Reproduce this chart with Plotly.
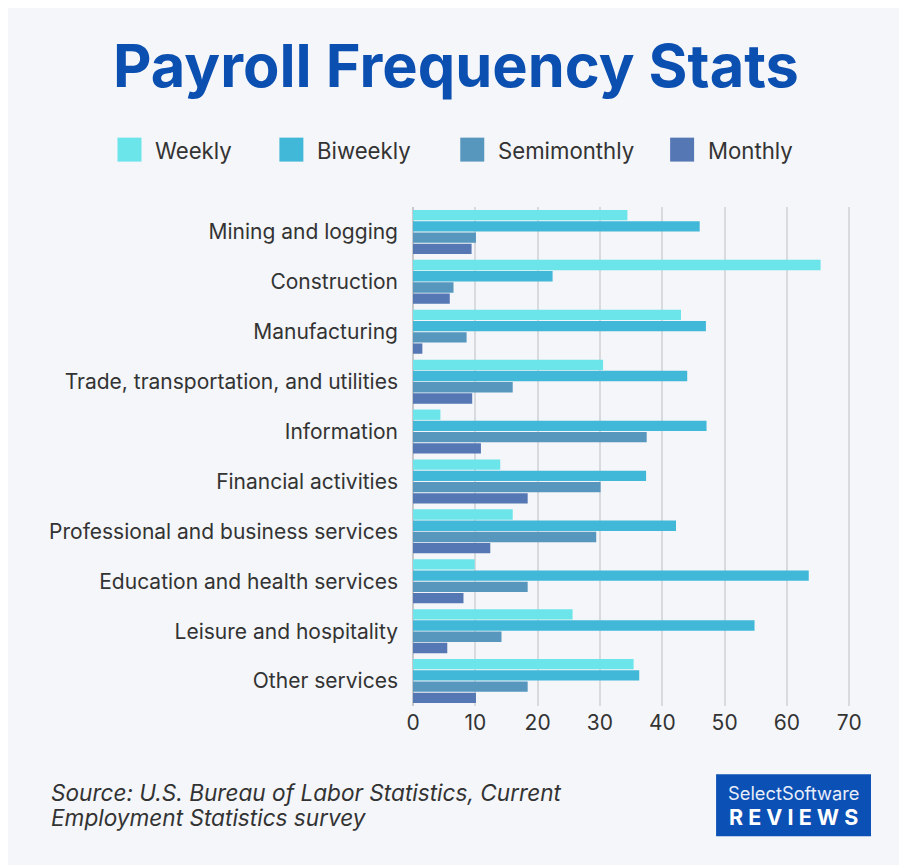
import plotly.graph_objects as go

# values (percent of establishments)
industries = [
    "Mining and logging",
    "Construction",
    "Manufacturing",
    "Trade, transportation, and utilities",
    "Information",
    "Financial activities",
    "Professional and business services",
    "Education and health services",
    "Leisure and hospitality",
    "Other services",
]
weekly = [34.4, 65.4, 43.0, 30.5, 4.4, 14.0, 16.0, 9.9, 25.6, 35.4]
biweekly = [46.0, 22.4, 47.0, 44.0, 47.1, 37.4, 42.2, 63.5, 54.8, 36.3]
semimonthly = [10.1, 6.5, 8.6, 16.0, 37.5, 30.1, 29.4, 18.4, 14.2, 18.4]
monthly = [9.4, 5.9, 1.5, 9.5, 10.9, 18.4, 12.4, 8.1, 5.5, 10.1]

series_names = ["Weekly", "Biweekly", "Semimonthly", "Monthly"]
series_values = [weekly, biweekly, semimonthly, monthly]
colors = ["#6be4ea", "#42b8d8", "#5797be", "#5577b3"]
x_ticks = [0, 10, 20, 30, 40, 50, 60, 70]

# page has an 8px body margin, so the figure is drawn 8px smaller
OFF = 8
W, H = 907 - OFF, 865 - OFF
BG = "#f4f6f9"
FONT = "Inter"
TXT = "#333333"

# plot area (figure pixels)
L, T = 404.7, 198.5
R, B = 54, 158.5
PW, PH = W - L - R, H - T - B


def px(x):
    # screen pixel x -> paper coordinate
    return (x - OFF - L) / PW


def py(y):
    # screen pixel y -> paper coordinate
    return (H - B - (y - OFF)) / PH


fig = go.Figure()
for name, vals, col in zip(series_names, series_values, colors):
    fig.add_trace(go.Bar(
        y=industries, x=vals, name=name, orientation="h",
        marker=dict(color=col, line=dict(width=0)),
        showlegend=False,
    ))

fig.update_layout(
    width=W, height=H,
    paper_bgcolor=BG, plot_bgcolor=BG,
    margin=dict(l=L, r=R, t=T, b=B),
    barmode="group", bargap=0.1, bargroupgap=0.08,
    font=dict(family=FONT, color=TXT, size=18),
)
fig.update_xaxes(
    range=[0, 70.6], tickvals=x_ticks, showgrid=True,
    gridcolor="#d9dadd", gridwidth=1.5,
    zeroline=True, zerolinecolor="#c8c9cc", zerolinewidth=2,
    tickfont=dict(size=21, color=TXT), ticks="", ticklabelstandoff=2,
)
fig.update_yaxes(
    autorange="reversed", ticks="", ticklabelstandoff=14,
    tickfont=dict(size=21, color=TXT),
)

# title
fig.add_annotation(
    text="<b>Payroll Frequency Stats</b>", x=px(456), y=py(64),
    xref="paper", yref="paper", xanchor="center", yanchor="middle",
    showarrow=False, font=dict(size=59.5, color="#0b4fb1", family=FONT),
)

# custom legend with big square swatches
legend_x = [117, 279, 460, 670]
for name, col, lx in zip(series_names, colors, legend_x):
    fig.add_shape(
        type="rect", xref="paper", yref="paper",
        x0=px(lx), x1=px(lx + 24), y0=py(161), y1=py(137),
        fillcolor=col, line=dict(width=0),
    )
    fig.add_annotation(
        text=name, xref="paper", yref="paper", showarrow=False,
        x=px(lx + 36), y=py(149.5), xanchor="left", yanchor="middle",
        font=dict(size=22.2, color=TXT, family=FONT),
    )

# source note, two lines
source_lines = ["Source: U.S. Bureau of Labor Statistics, Current",
                "Employment Statistics survey"]
for i, line in enumerate(source_lines):
    fig.add_annotation(
        text="<i>" + line + "</i>", xref="paper", yref="paper", showarrow=False,
        x=px(48), y=py(793 + 25 * i), xanchor="left", yanchor="middle",
        font=dict(size=22.6, color=TXT, family=FONT),
    )

# logo badge
fig.add_shape(
    type="rect", xref="paper", yref="paper",
    x0=px(716), x1=px(871), y0=py(837), y1=py(775),
    fillcolor="#0b50b4", line=dict(width=0),
)
fig.add_annotation(
    text="SelectSoftware", xref="paper", yref="paper", showarrow=False,
    x=px(793.5), y=py(793.5), xanchor="center", yanchor="middle",
    font=dict(size=18.3, color="#e8eefa", family=FONT),
)
fig.add_annotation(
    text="<b>R E V I E W S</b>", xref="paper", yref="paper", showarrow=False,
    x=px(793.5), y=py(817.5), xanchor="center", yanchor="middle",
    font=dict(size=21.5, color="#ffffff", family=FONT),
)

fig.write_html("out.html")
